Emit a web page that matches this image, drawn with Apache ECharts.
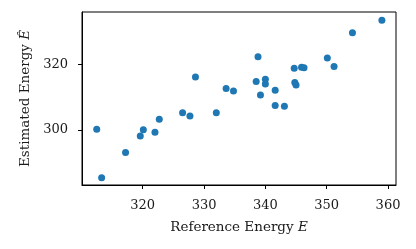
<!DOCTYPE html>
<html>
<head>
<meta charset="utf-8">
<script src="https://cdn.jsdelivr.net/npm/echarts@6/dist/echarts.min.js"></script>
<style>html,body{margin:0;padding:0;background:#fff;}#c{width:416px;height:249px;}</style>
</head>
<body>
<div id="c"></div>
<script>
const refEnergy = [312.5, 313.3, 317.2, 319.6, 320.1, 322.0, 322.7, 326.5, 327.7, 328.6, 332.0, 333.6, 334.8, 338.5, 338.8, 339.2, 340.0, 340.0, 341.6, 341.6, 343.1, 344.7, 344.8, 345.0, 345.9, 346.3, 350.1, 351.2, 354.2, 359.0];
const estEnergy = [300.2, 285.4, 293.1, 298.1, 300.0, 299.3, 303.2, 305.2, 304.2, 316.1, 305.2, 312.6, 311.8, 314.7, 322.3, 310.6, 315.4, 314.0, 312.1, 307.4, 307.2, 318.8, 314.4, 313.7, 319.1, 318.9, 321.9, 319.3, 329.6, 333.4];
const xTicks = [320, 330, 340, 350, 360];
const yTicks = [300, 320];

const points = refEnergy.map((x, i) => [x, estEnergy[i]]);
const font = 'DejaVu Serif';
const chart = echarts.init(document.getElementById('c'), null, {renderer: 'canvas'});
chart.setOption({
  animation: false,
  backgroundColor: '#fff',
  grid: {left: 82, right: 20, top: 12, bottom: 64, show: true, borderColor: '#000', borderWidth: 1, backgroundColor: 'transparent'},
  xAxis: {
    type: 'value', min: 310.1, max: 361.3,
    splitLine: {show: false},
    axisLine: {show: true, onZero: false, lineStyle: {color: '#000', width: 1}},
    axisTick: {show: true, length: 4, lineStyle: {color: '#000', width: 1}, customValues: xTicks},
    axisLabel: {color: '#1a1a1a', fontFamily: font, fontSize: 13, margin: 14, customValues: xTicks},
    name: 'Reference Energy {i|E}', nameLocation: 'middle', nameGap: 35,
    nameTextStyle: {color: '#1a1a1a', fontFamily: font, fontSize: 13.5, rich: {i: {fontStyle: 'italic', fontFamily: font, fontSize: 13.5, color: '#1a1a1a'}}}
  },
  yAxis: {
    type: 'value', min: 283.2, max: 335.9,
    splitLine: {show: false},
    axisLine: {show: true, onZero: false, lineStyle: {color: '#000', width: 1}},
    axisTick: {show: true, length: 4, lineStyle: {color: '#000', width: 1}, customValues: yTicks},
    axisLabel: {color: '#1a1a1a', fontFamily: font, fontSize: 13, margin: 14, customValues: yTicks},
    name: 'Estimated Energy {i|Ê}', nameLocation: 'middle', nameGap: 44,
    nameTextStyle: {color: '#1a1a1a', fontFamily: font, fontSize: 13.5, rich: {i: {fontStyle: 'italic', fontFamily: font, fontSize: 13.5, color: '#1a1a1a'}}}
  },
  series: [{
    type: 'scatter', data: points, symbolSize: 7,
    itemStyle: {color: '#1f77b4', opacity: 1}
  }]
});
</script>
</body>
</html>
